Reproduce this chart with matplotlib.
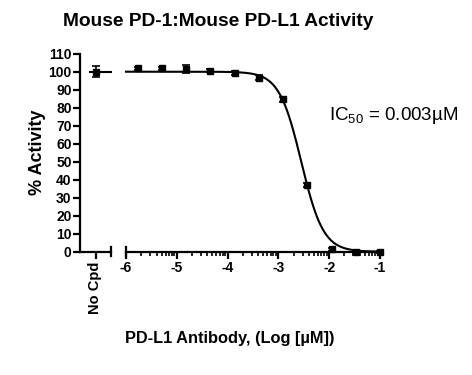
import numpy as np
import matplotlib
matplotlib.use('Agg')
import matplotlib.pyplot as plt

plt.rcParams['font.family'] = ['Liberation Sans', 'DejaVu Sans']
plt.rcParams['mathtext.fontset'] = 'custom'
plt.rcParams['mathtext.rm'] = 'Liberation Sans'
plt.rcParams['mathtext.default'] = 'regular'

# no compound control
ctrl_y = 100.0
ctrl_err = 3.2

# PD-L1 antibody dilution series, log [uM]
log_conc = [-5.77, -5.29, -4.81, -4.34, -3.86, -3.38, -2.91, -2.43, -1.95, -1.48, -1.00]
activity = [101.8, 101.8, 101.3, 100.6, 99.1, 96.6, 84.7, 37.2, 1.3, 0.0, 0.0]
act_err = [1.0, 1.0, 2.2, 0.8, 1.2, 1.4, 1.4, 1.0, 0.8, 0.5, 0.5]

# 4PL fit parameters
top, bottom, log_ic50, hill = 100.0, 0.0, -2.55, 2.0

y_ticks = np.arange(0, 111, 10)
x_ticks = [-6, -5, -4, -3, -2, -1]


def fit(x):
    return bottom + (top - bottom) / (1 + 10 ** ((np.asarray(x) - log_ic50) * hill))


fig = plt.figure(figsize=(4.72, 3.75), dpi=100)
ax1 = fig.add_axes([80 / 472, 1 - 251.7 / 375, 31 / 472, 198 / 375])
ax2 = fig.add_axes([126 / 472, 1 - 251.7 / 375, 254 / 472, 198 / 375])

lw = 1.6
for ax in (ax1, ax2):
    ax.set_ylim(0, 110)
    ax.spines['top'].set_visible(False)
    ax.spines['right'].set_visible(False)
    ax.spines['bottom'].set_linewidth(lw)
    ax.spines['left'].set_linewidth(lw)
    ax.tick_params(width=lw, length=5, labelsize=10)
    ax.patch.set_alpha(0)

# left segment: no compound
ax1.set_xlim(-1, 1)
ax1.set_yticks(y_ticks)
ax1.set_yticklabels([str(v) for v in y_ticks], fontweight='bold')
ax1.tick_params(axis='y', pad=1)
ax1.set_xticks([0])
ax1.set_xticklabels(['No Cpd'], rotation=90, fontweight='bold', fontsize=10.5)
ax1.tick_params(axis='x', pad=2)
ax1.plot([-0.35, 1], fit([-6, -6]), color='black', lw=1.5, clip_on=False)
ax1.errorbar([0], [ctrl_y], yerr=[ctrl_err], fmt='s', color='black', ms=5,
             capsize=3, elinewidth=1.2, capthick=1.2, clip_on=False)
ax1.plot([1, 1], [-0.022, 0.022], transform=ax1.transAxes, color='black', lw=lw, clip_on=False)
ax1.set_ylabel('% Activity', fontsize=13, fontweight='bold', labelpad=2)

# right segment: dose response
ax2.set_xlim(-6, -1)
ax2.spines['left'].set_visible(False)
ax2.set_yticks([])
ax2.set_xticks(x_ticks)
ax2.set_xticklabels([str(v) for v in x_ticks], fontweight='bold')
minor = [d + np.log10(k) for d in range(-6, -1) for k in range(2, 10)]
ax2.set_xticks(minor, minor=True)
ax2.tick_params(axis='x', which='minor', length=3, width=1.2)
ax2.tick_params(axis='x', which='major', pad=2)
ax2.plot([0, 0], [-0.022, 0.022], transform=ax2.transAxes, color='black', lw=lw, clip_on=False)

xc = np.linspace(-6, -1, 400)
ax2.plot(xc, fit(xc), color='black', lw=1.5, clip_on=False)
ax2.errorbar(log_conc, activity, yerr=act_err, fmt='s', color='black', ms=5,
             capsize=3, elinewidth=1.2, capthick=1.2, clip_on=False)

ax2.text(0.8, 0.69, 'IC$_{50}$ = 0.003\u00b5M', transform=ax2.transAxes,
         fontsize=13.5, ha='left', va='center')

fig.text(218 / 472, 1 - 22 / 375, 'Mouse PD-1:Mouse PD-L1 Activity',
         fontsize=13.8, fontweight='bold', ha='center', va='center')
fig.text(230 / 472, 1 - 338 / 375, 'PD-L1 Antibody, (Log [\u00b5M])',
         fontsize=11.8, fontweight='bold', ha='center', va='center')

fig.savefig('out.png', dpi=100)
